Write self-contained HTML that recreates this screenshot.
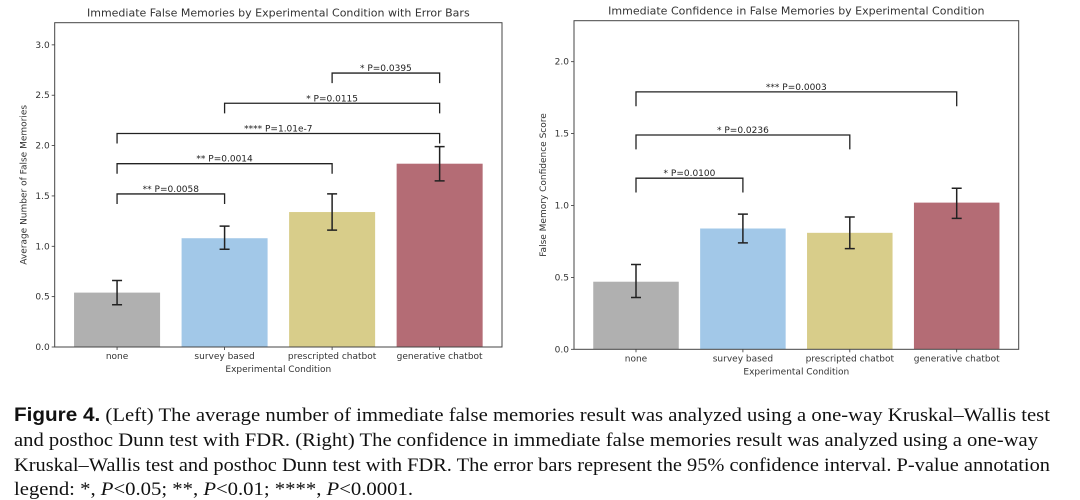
<!DOCTYPE html>
<html><head><meta charset="utf-8"><style>
body{margin:0;background:#fff}
svg{display:block}
text{font-family:"DejaVu Sans","Liberation Sans",sans-serif}
</style></head><body>
<svg id="fig" width="1080" height="500" viewBox="0 0 1080 500" xmlns="http://www.w3.org/2000/svg">
<g id="left"></g>
<g id="right"></g>
<g font-size="19" fill="#111">
<text x="14" y="421" textLength="1036" lengthAdjust="spacingAndGlyphs" style="font-family:'Liberation Serif',serif"><tspan font-weight="bold" style="font-family:'Liberation Sans',sans-serif">Figure 4.</tspan> (Left) The average number of immediate false memories result was analyzed using a one-way Kruskal–Wallis test</text>
<text x="14" y="446" textLength="1024" lengthAdjust="spacingAndGlyphs" style="font-family:'Liberation Serif',serif">and posthoc Dunn test with FDR. (Right) The confidence in immediate false memories result was analyzed using a one-way</text>
<text x="14" y="471" textLength="1036" lengthAdjust="spacingAndGlyphs" style="font-family:'Liberation Serif',serif">Kruskal–Wallis test and posthoc Dunn test with FDR. The error bars represent the 95% confidence interval. P-value annotation</text>
<text x="14" y="495" textLength="399" lengthAdjust="spacingAndGlyphs" style="font-family:'Liberation Serif',serif">legend: *, <tspan font-style="italic">P</tspan>&lt;0.05; **, <tspan font-style="italic">P</tspan>&lt;0.01; ****, <tspan font-style="italic">P</tspan>&lt;0.0001.</text>
</g>
</svg>
<script>
const categories = ["none","survey based","prescripted chatbot","generative chatbot"];
const colors = ["#b0b0b0","#a2c8e8","#d8cd8a","#b46c75"];
const leftValues = [0.54,1.08,1.34,1.82];
const leftLow = [0.42,0.97,1.16,1.65];
const leftHigh = [0.66,1.20,1.52,1.99];
const leftTicks = ["0.0","0.5","1.0","1.5","2.0","2.5","3.0"];
const leftBrackets = [[0,1,1.52,"** P=0.0058"],[0,2,1.82,"** P=0.0014"],[0,3,2.12,"**** P=1.01e-7"],[1,3,2.42,"* P=0.0115"],[2,3,2.72,"* P=0.0395"]];
const rightValues = [0.47,0.84,0.81,1.02];
const rightLow = [0.36,0.74,0.70,0.91];
const rightHigh = [0.59,0.94,0.92,1.12];
const rightTicks = ["0.0","0.5","1.0","1.5","2.0"];
const rightBrackets = [[0,1,1.19,"* P=0.0100"],[0,2,1.49,"* P=0.0236"],[0,3,1.79,"*** P=0.0003"]];
const NS="http://www.w3.org/2000/svg";
function mk(parent,tag,attrs,txt){const e=document.createElementNS(NS,tag);for(const k in attrs)e.setAttribute(k,attrs[k]);if(txt!==undefined)e.textContent=txt;parent.appendChild(e);return e;}
function chart(g,o){
  const {x0,x1,y0,y1,ymax,vals,lo,hi,ticks,brackets,title,ylabel}=o;
  const ys=v=>y0-(v/ymax)*(y0-y1);
  const xmin=-0.58,xmaxv=3.58;
  const xs=i=>x0+(i-xmin)/(xmaxv-xmin)*(x1-x0);
  const bw=(xs(1)-xs(0))*0.8;
  const t=mk(g,'text',{x:(x0+x1)/2,y:y1-6,'text-anchor':'middle','font-size':11,fill:'#333'},title);
  
  
  vals.forEach((v,i)=>{
    const r=mk(g,'rect',{x:xs(i)-bw/2,y:ys(v),width:bw,height:ys(0)-ys(v),fill:colors[i]});
    
    
    const eb=mk(g,'path',{d:`M${xs(i)},${ys(lo[i])}V${ys(hi[i])}M${xs(i)-5},${ys(lo[i])}h10M${xs(i)-5},${ys(hi[i])}h10`,stroke:'#222','stroke-width':1.5,fill:'none'});
    
    
    const lb=mk(g,'text',{x:xs(i),y:y0+12,'text-anchor':'middle','font-size':9,fill:'#333'},categories[i]);
    
    
    mk(g,'line',{x1:xs(i),x2:xs(i),y1:y0,y2:y0+3,stroke:'#333','stroke-width':0.8});
  });
  ticks.forEach(tk=>{
    const v=parseFloat(tk);
    mk(g,'line',{x1:x0-3,x2:x0,y1:ys(v),y2:ys(v),stroke:'#333','stroke-width':0.8});
    const tl=mk(g,'text',{x:x0-5,y:ys(v)+3,'text-anchor':'end','font-size':9,fill:'#333'},tk);
    
    
  });
  brackets.forEach(b=>{
    const [a,c,h,lab]=b;
    const p=mk(g,'path',{d:`M${xs(a)},${ys(h-0.1)}V${ys(h)}H${xs(c)}V${ys(h-0.1)}`,stroke:'#222','stroke-width':1.3,fill:'none'});
    
    
    const bt=mk(g,'text',{x:(xs(a)+xs(c))/2,y:ys(h)-2,'text-anchor':'middle','font-size':9,fill:'#222'},lab);
    
    
  });
  const fr=mk(g,'rect',{x:x0,y:y1,width:x1-x0,height:y0-y1,fill:'none',stroke:'#444','stroke-width':1});
  
  
  const xl=mk(g,'text',{x:(x0+x1)/2,y:y0+25,'text-anchor':'middle','font-size':9,fill:'#333'},'Experimental Condition');
  
  
  const yl=mk(g,'text',{x:0,y:0,'text-anchor':'middle','font-size':9,fill:'#333',transform:`translate(${x0-28},${(y0+y1)/2}) rotate(-90)`},ylabel);
  
  
}
chart(document.getElementById('left'),{x0:54.7,x1:502,y0:347,y1:22.7,ymax:3.22,vals:leftValues,lo:leftLow,hi:leftHigh,ticks:leftTicks,brackets:leftBrackets,title:'Immediate False Memories by Experimental Condition with Error Bars',ylabel:'Average Number of False Memories'});
chart(document.getElementById('right'),{x0:574,x1:1018.7,y0:349.3,y1:20.7,ymax:2.285,vals:rightValues,lo:rightLow,hi:rightHigh,ticks:rightTicks,brackets:rightBrackets,title:'Immediate Confidence in False Memories by Experimental Condition',ylabel:'False Memory Confidence Score'});
</script>
</body></html>
